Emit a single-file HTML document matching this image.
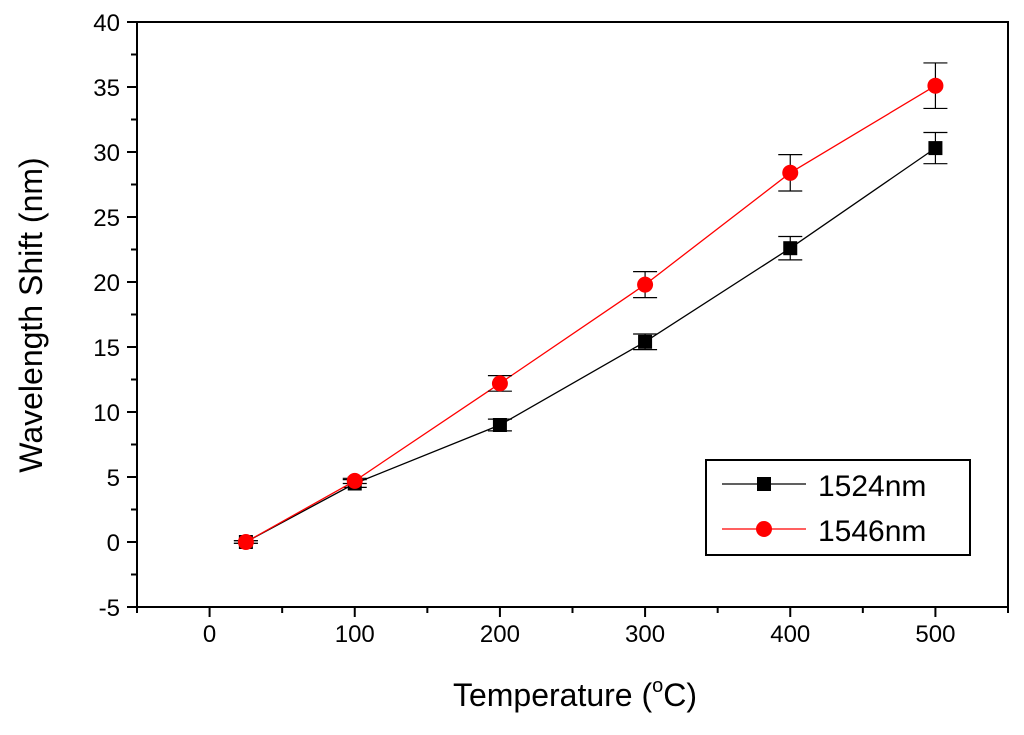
<!DOCTYPE html>
<html><head><meta charset="utf-8"><style>
body{margin:0;background:#fff}
svg text{font-family:"Liberation Sans",Arial,sans-serif}
</style></head><body>
<svg id="chart" width="1024" height="730" xmlns="http://www.w3.org/2000/svg">
<rect x="137" y="22" width="871" height="585" fill="none" stroke="#000" stroke-width="2"/>
<g id="axes"></g>
<g id="series"></g>
<text x="575" y="706" font-size="32" text-anchor="middle">Temperature (<tspan font-size="20" dy="-14">o</tspan><tspan dy="14">C)</tspan></text>
<text transform="translate(42,315) rotate(-90)" font-size="32" text-anchor="middle">Wavelength Shift (nm)</text>
<g>
<rect x="706" y="460" width="264" height="95" fill="#fff" stroke="#000" stroke-width="2"/>
<g>
<line x1="722" y1="484" x2="806" y2="484" stroke="#000" stroke-width="1.3"/>
<rect x="757" y="477" width="14" height="14" fill="#000"/>
<text x="818" y="496" font-size="30">1524nm</text></g>
<g>
<line x1="722" y1="529" x2="806" y2="529" stroke="#f00" stroke-width="1.3"/>
<circle cx="764" cy="529" r="8" fill="#f00"/>
<text x="818" y="541" font-size="30">1546nm</text></g>
</g>
</svg>
<script>
const xTicks=[0,100,200,300,400,500];
const yTicks=[-5,0,5,10,15,20,25,30,35,40];
const temps=[25,100,200,300,400,500];
const s1524=[0,4.5,9.0,15.4,22.6,30.3];
const e1524=[0.1,0.3,0.45,0.6,0.9,1.2];
const s1546=[0,4.7,12.2,19.8,28.4,35.1];
const e1546=[0.1,0.2,0.6,1.0,1.4,1.75];
const NS="http://www.w3.org/2000/svg";
const X=v=>137+(v+50)*871/600;
const Y=v=>607-(v+5)*585/45;
function mk(tag,at,parent){const e=document.createElementNS(NS,tag);for(const k in at)e.setAttribute(k,at[k]);parent.appendChild(e);return e;}
const ax=document.getElementById('axes');
for(let v=-50;v<=550;v+=50){const major=v%100===0;
const t=mk('line',{x1:X(v),x2:X(v),y1:607,y2:607+(major?10:6),stroke:'#000','stroke-width':2},ax);

}
xTicks.forEach(v=>{const t=mk('text',{x:X(v),y:642,'font-size':24,'text-anchor':'middle'},ax);t.textContent=v;

});
for(let v=-5;v<=40;v+=2.5){const major=v%5===0;
const t=mk('line',{x1:137,x2:137-(major?10:6),y1:Y(v),y2:Y(v),stroke:'#000','stroke-width':2},ax);

}
yTicks.forEach(v=>{const t=mk('text',{x:120,y:Y(v)+9,'font-size':24,'text-anchor':'end'},ax);t.textContent=v;

});
const sg=document.getElementById('series');
function series(vals,errs,color,name,circle){
const g=mk('g',{},sg);


mk('polyline',{points:temps.map((t,i)=>X(t)+','+Y(vals[i])).join(' '),fill:'none',stroke:color,'stroke-width':1.3},g);
temps.forEach((t,i)=>{const x=X(t),y1=Y(vals[i]+errs[i]),y2=Y(vals[i]-errs[i]);
mk('line',{x1:x,x2:x,y1:y1,y2:y2,stroke:'#000','stroke-width':1.2},g);
mk('line',{x1:x-12,x2:x+12,y1:y1,y2:y1,stroke:'#000','stroke-width':1.2},g);
mk('line',{x1:x-12,x2:x+12,y1:y2,y2:y2,stroke:'#000','stroke-width':1.2},g);
const m=circle?mk('circle',{cx:x,cy:Y(vals[i]),r:8,fill:color},g):mk('rect',{x:x-7,y:Y(vals[i])-7,width:14,height:14,fill:color},g);

});}
series(s1524,e1524,'#000','1524nm',false);
series(s1546,e1546,'#f00','1546nm',true);
</script>
</body></html>
